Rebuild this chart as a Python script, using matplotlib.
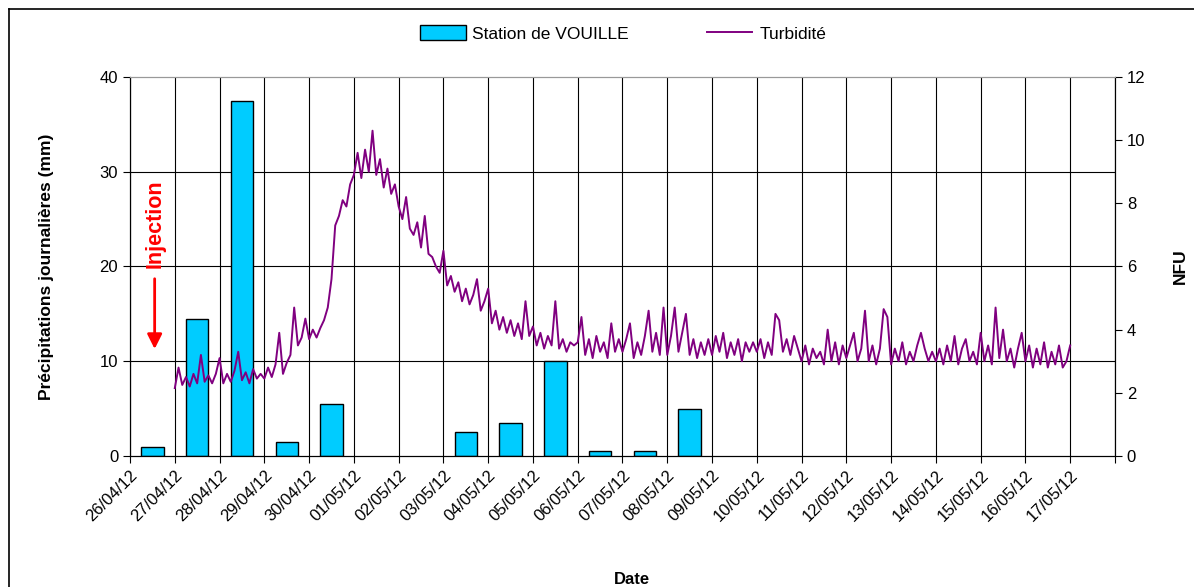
import numpy as np
import pandas as pd
import matplotlib
matplotlib.use("Agg")
import matplotlib.pyplot as plt
import matplotlib.dates as mdates
from matplotlib.lines import Line2D

plt.rcParams["font.family"] = ["Liberation Sans", "DejaVu Sans"]

# Daily rainfall at Vouillé (mm), one bar per day
rain_days = pd.date_range("2012-04-26", "2012-05-17", freq="D")
rain_mm = [1.0, 14.5, 37.5, 1.5, 5.5, 0.0, 0.0, 2.5, 3.5, 10.0, 0.5, 0.5,
           5.0, 0, 0, 0, 0, 0, 0, 0, 0, 0]

# Turbidity (NFU), read every 2 hours from 27/04 00:00
turb_27_04 = [2.15, 2.8, 2.25, 2.5, 2.2, 2.6, 2.3, 3.2, 2.35, 2.55, 2.3, 2.6]
turb_28_04 = [3.1, 2.3, 2.6, 2.35, 2.7, 3.3, 2.4, 2.65, 2.3, 2.75, 2.45, 2.6]
turb_29_04 = [2.45, 2.8, 2.5, 2.9, 3.9, 2.6, 2.95, 3.2, 4.7, 3.5, 3.75, 4.35]
turb_30_04 = [3.7, 4.0, 3.75, 4.05, 4.3, 4.7, 5.6, 7.3, 7.6, 8.1, 7.9, 8.6]
turb_01_05 = [8.9, 9.6, 8.8, 9.7, 9.0, 10.3, 8.9, 9.4, 8.5, 9.1, 8.3, 8.6]
turb_02_05 = [7.9, 7.5, 8.2, 7.2, 7.0, 7.4, 6.6, 7.6, 6.4, 6.3, 6.0, 5.8]
turb_03_05 = [6.5, 5.4, 5.7, 5.2, 5.5, 4.9, 5.3, 4.8, 5.1, 5.6, 4.6, 4.9]
turb_04_05 = [5.3, 4.2, 4.6, 4.0, 4.4, 3.9, 4.3, 3.8, 4.2, 3.7, 4.9, 3.8]
turb_05_05 = [4.1, 3.5, 3.9, 3.4, 3.8, 3.5, 4.9, 3.4, 3.7, 3.3, 3.6, 3.5]
turb_06_05 = [3.6, 4.4, 3.2, 3.7, 3.1, 3.8, 3.3, 3.6, 3.1, 4.2, 3.3, 3.7]
turb_07_05 = [3.3, 3.7, 4.2, 3.1, 3.6, 3.2, 3.8, 4.6, 3.3, 3.9, 3.2, 4.7]
turb_08_05 = [3.2, 3.8, 4.7, 3.3, 3.9, 4.5, 3.2, 3.7, 3.1, 3.6, 3.2, 3.7]
turb_09_05 = [3.2, 3.8, 3.3, 3.9, 3.1, 3.6, 3.2, 3.7, 3.0, 3.6, 3.3, 3.6]
turb_10_05 = [3.3, 3.7, 3.1, 3.6, 3.2, 4.5, 4.3, 3.3, 3.7, 3.2, 3.8, 3.4]
turb_11_05 = [3.0, 3.5, 2.9, 3.4, 3.1, 3.3, 2.9, 4.0, 3.0, 3.6, 2.9, 3.5]
turb_12_05 = [3.1, 3.5, 3.9, 3.0, 3.4, 4.6, 3.0, 3.5, 2.9, 3.4, 4.65, 4.4]
turb_13_05 = [2.9, 3.4, 3.0, 3.6, 2.9, 3.3, 3.0, 3.5, 3.9, 3.4, 3.0, 3.3]
turb_14_05 = [3.0, 3.4, 2.9, 3.5, 3.0, 3.8, 2.9, 3.4, 3.7, 3.0, 3.3, 2.9]
turb_15_05 = [3.9, 3.0, 3.5, 2.9, 4.7, 3.1, 4.0, 3.0, 3.4, 2.8, 3.4, 3.9]
turb_16_05 = [3.0, 3.5, 2.8, 3.4, 2.9, 3.6, 2.8, 3.3, 2.9, 3.5, 2.8, 3.0]
turb_17_05 = [3.5]

turb = (turb_27_04 + turb_28_04 + turb_29_04 + turb_30_04 + turb_01_05
        + turb_02_05 + turb_03_05 + turb_04_05 + turb_05_05 + turb_06_05
        + turb_07_05 + turb_08_05 + turb_09_05 + turb_10_05 + turb_11_05
        + turb_12_05 + turb_13_05 + turb_14_05 + turb_15_05 + turb_16_05
        + turb_17_05)
turb_times = pd.date_range("2012-04-27", periods=len(turb), freq="2h")

tick_days = pd.date_range("2012-04-26", "2012-05-18", freq="D")

fig = plt.figure(figsize=(11.94, 5.87), dpi=100)
ax1 = fig.add_axes([0.1089, 0.2232, 0.8249, 0.6456])
ax2 = ax1.twinx()

# Bars, centred in the middle of each day (days without rain have no bar)
x_bar = mdates.date2num(rain_days) + 0.5
rain = np.array(rain_mm, dtype=float)
wet = rain > 0
ax1.bar(x_bar[wet], rain[wet], width=0.5, color="#00CCFF", edgecolor="black",
        linewidth=1.0, zorder=2, label="Station de VOUILLE")

ax2.plot(mdates.date2num(turb_times), turb, color="#800080", linewidth=1.4,
         label="Turbidité", zorder=3)

x0 = mdates.date2num(tick_days[0])
x1 = mdates.date2num(tick_days[-1])
ax1.set_xlim(x0, x1)
ax1.set_ylim(0, 40)
ax2.set_ylim(0, 12)
ax1.set_yticks([0, 10, 20, 30, 40])
ax2.set_yticks(np.arange(0, 13, 2))

ax1.set_xticks(mdates.date2num(tick_days))
labels = [d.strftime("%d/%m/%y") for d in tick_days]
labels[-1] = ""
ax1.set_xticklabels(labels, rotation=45, ha="right", rotation_mode="anchor",
                    fontsize=12)

# Grid: vertical at each day, horizontal at major left ticks
ax1.set_axisbelow(True)
ax1.grid(True, axis="x", color="black", linewidth=0.8)
for v in [10, 20, 30]:
    ax1.axhline(v, color="black", linewidth=0.8, zorder=0.5)

for ax in (ax1, ax2):
    ax.spines["top"].set_color("#999999")
    ax.spines["left"].set_color("black")
    ax.spines["right"].set_color("black")
    ax.spines["bottom"].set_color("black")
    ax.tick_params(direction="out", length=5, width=0.8, labelsize=12)

ax1.set_ylabel("Précipitations journalières (mm)", fontsize=12.5,
               fontweight="bold")
ax1.yaxis.set_label_coords(-0.077, 0.5)
ax2.set_ylabel("NFU", fontsize=12.5, fontweight="bold")
ax2.yaxis.set_label_coords(1.059, 0.5)
ax1.set_xlabel("Date", fontsize=12, fontweight="bold")
ax1.xaxis.set_label_coords(0.51, -0.305)

# Injection marker
x_inj = x0 + 0.55
ax1.text(x_inj, 24.5, "Injection", rotation=90, color="red", fontsize=15.5,
         fontweight="bold", ha="center", va="center")
ax1.annotate("", xy=(x_inj, 11.0), xytext=(x_inj, 19.0),
             arrowprops=dict(arrowstyle="-|>", color="red", lw=2,
                             mutation_scale=22))

# Legend on top
h1, l1 = ax1.get_legend_handles_labels()
h2, l2 = ax2.get_legend_handles_labels()
fig.legend(h1 + h2, l1 + l2, loc="center", bbox_to_anchor=(0.522, 0.943),
           ncol=2, frameon=False, fontsize=12.5, columnspacing=4.5,
           handlelength=2.6, handleheight=0.9, handletextpad=0.4)

# Frame around the chart (left and top edges visible)
left = 9 / 1194
top = 1 - 9 / 587
fig.add_artist(Line2D([left, left], [0, top], transform=fig.transFigure,
                      color="black", linewidth=1.2))
fig.add_artist(Line2D([left, 1], [top, top], transform=fig.transFigure,
                      color="black", linewidth=1.2))

fig.savefig("out.png", dpi=100)
